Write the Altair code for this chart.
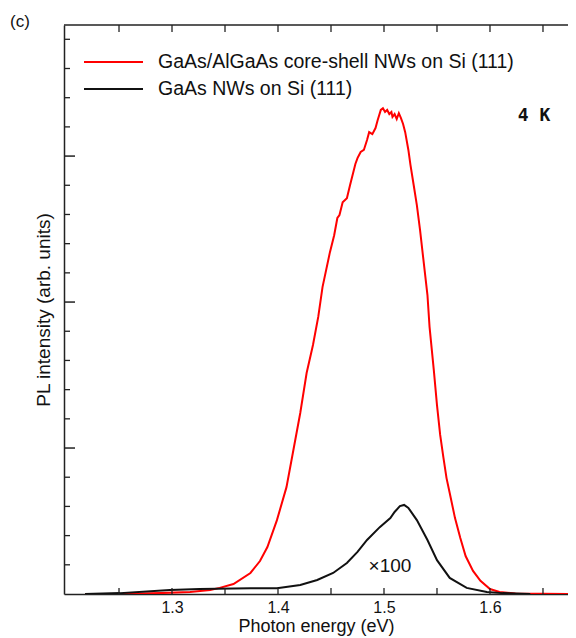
import altair as alt
import pandas as pd

# ---- data (photon energy in eV, intensity in minor-tick units)
red_e = [1.218, 1.251, 1.289, 1.317, 1.336, 1.345, 1.358, 1.374, 1.383, 1.390, 1.399, 1.408,
         1.414, 1.421, 1.427, 1.433, 1.438, 1.442, 1.449, 1.453, 1.456, 1.458, 1.461, 1.465,
         1.468, 1.473, 1.475, 1.478, 1.481, 1.484, 1.486, 1.489, 1.492, 1.494, 1.497, 1.499,
         1.501, 1.503, 1.505, 1.507, 1.508, 1.510, 1.512, 1.514, 1.516, 1.518, 1.520, 1.523,
         1.525, 1.528, 1.531, 1.534, 1.537, 1.541, 1.543, 1.547, 1.550, 1.553, 1.556, 1.559,
         1.562, 1.567, 1.572, 1.577, 1.584, 1.591, 1.600, 1.609, 1.624, 1.674]
red_i = [0.00, 0.00, 0.03, 0.07, 0.14, 0.21, 0.34, 0.72, 1.13, 1.61, 2.53, 3.66,
         4.83, 6.20, 7.57, 8.53, 9.50, 10.51, 11.71, 12.29, 12.88, 12.98, 13.42, 13.56,
         14.01, 14.73, 14.93, 15.14, 15.21, 15.55, 15.82, 15.75, 15.96, 16.23, 16.58, 16.64,
         16.51, 16.58, 16.44, 16.51, 16.34, 16.44, 16.27, 16.47, 16.30, 16.10, 15.82, 15.21,
         14.69, 14.01, 13.32, 12.47, 11.51, 10.24, 9.14, 7.67, 6.47, 5.45, 4.69, 3.97,
         3.46, 2.60, 1.92, 1.30, 0.79, 0.45, 0.17, 0.07, 0.02, 0.00]

black_e = [1.218, 1.251, 1.298, 1.326, 1.374, 1.399, 1.421, 1.437, 1.452, 1.465, 1.475, 1.484,
           1.496, 1.506, 1.510, 1.515, 1.519, 1.523, 1.531, 1.541, 1.550, 1.562, 1.578, 1.597,
           1.612, 1.638]
black_i = [0.00, 0.03, 0.14, 0.17, 0.20, 0.20, 0.31, 0.48, 0.72, 1.06, 1.44, 1.85,
           2.29, 2.60, 2.81, 3.01, 3.05, 2.95, 2.53, 1.85, 1.16, 0.55, 0.21, 0.07,
           0.03, 0.00]

series_names = ["GaAs/AlGaAs core-shell NWs on Si (111)", "GaAs NWs on Si (111)"]
series_colors = ["#ff0000", "#111111"]

x_labels = [1.3, 1.4, 1.5, 1.6]
x_ticks = [1.25, 1.30, 1.35, 1.40, 1.45, 1.50, 1.55, 1.60, 1.65]
y_minor = [1, 2, 3, 4, 6, 7, 8, 9, 11, 12, 13, 14, 16, 17, 18, 19]
y_major = [5, 10, 15]

X_MIN, X_MAX = 1.1981, 1.6736
Y_MIN, Y_MAX = 0, 19.49
W, H = 504, 569

FONT = "Liberation Sans"

xscale = alt.Scale(domain=[X_MIN, X_MAX], nice=False, zero=False)
yscale = alt.Scale(domain=[Y_MIN, Y_MAX], nice=False, zero=False)
xaxis = alt.Axis(values=x_labels, format=".1f", ticks=False, grid=False,
                 title="Photon energy (eV)", labelFontSize=16, titleFontSize=18,
                 labelPadding=5, titlePadding=2)
yaxis = alt.Axis(ticks=False, labels=False, grid=False,
                 title="PL intensity (arb. units)", titleFontSize=19, titlePadding=11)


def X(field):
    return alt.X(field, type="quantitative", scale=xscale, axis=xaxis)


def Y(field):
    return alt.Y(field, type="quantitative", scale=yscale, axis=yaxis)


df = pd.concat([
    pd.DataFrame({"e": red_e, "i": red_i, "s": series_names[0]}),
    pd.DataFrame({"e": black_e, "i": black_i, "s": series_names[1]}),
])

lines = alt.Chart(df).mark_line(strokeWidth=2, clip=True).encode(
    x=X("e"), y=Y("i"),
    color=alt.Color("s:N", scale=alt.Scale(domain=series_names, range=series_colors), legend=None),
    detail="s:N",
)

# top frame line
top = alt.Chart(pd.DataFrame({"a": [X_MIN], "b": [X_MAX], "y": [Y_MAX]})).mark_rule(
    color="#222", strokeWidth=1.5).encode(x=X("a"), x2="b", y=Y("y"))

tick_df = pd.DataFrame({"t": x_ticks})
xt_bottom = alt.Chart(tick_df).mark_rule(color="#222", strokeWidth=1.3).encode(
    x=X("t"), y=alt.value(H), y2=alt.value(H - 6))
xt_top = alt.Chart(tick_df).mark_rule(color="#222", strokeWidth=1.3).encode(
    x=X("t"), y=alt.value(0), y2=alt.value(7))
yt_minor = alt.Chart(pd.DataFrame({"t": y_minor})).mark_rule(color="#222", strokeWidth=1.3).encode(
    y=Y("t"), x=alt.value(0), x2=alt.value(6))
yt_major = alt.Chart(pd.DataFrame({"t": y_major})).mark_rule(color="#222", strokeWidth=1.5).encode(
    y=Y("t"), x=alt.value(0), x2=alt.value(11))

# legend (drawn)
legend_layers = []
for k, (name, col) in enumerate(zip(series_names, series_colors)):
    yy = 37 + 27 * k
    legend_layers.append(
        alt.Chart(pd.DataFrame({"n": [name]})).mark_rule(color=col, strokeWidth=2).encode(
            x=alt.value(20), x2=alt.value(79), y=alt.value(yy)))
    legend_layers.append(
        alt.Chart(pd.DataFrame({"n": [name]})).mark_text(
            align="left", baseline="middle", fontSize=19.5, font=FONT, color="#111").encode(
            x=alt.value(94), y=alt.value(yy), text="n:N"))

k4 = alt.Chart(pd.DataFrame({"t": ["4 K"]})).mark_text(
    align="center", baseline="middle", fontSize=18, fontWeight="bold",
    font="DejaVu Sans Mono", color="#111").encode(
    x=alt.value(470), y=alt.value(91), text="t:N")
x100 = alt.Chart(pd.DataFrame({"t": ["×100"]})).mark_text(
    align="center", baseline="middle", fontSize=19, font=FONT, color="#111").encode(
    x=alt.value(326), y=alt.value(541), text="t:N")
panel = alt.Chart(pd.DataFrame({"t": ["(c)"]})).mark_text(
    align="center", baseline="middle", fontSize=17, font=FONT, color="#111").encode(
    x=alt.value(-44), y=alt.value(-3), text="t:N")

chart = alt.layer(
    lines, top, xt_bottom, xt_top, yt_minor, yt_major, *legend_layers, k4, x100, panel
).properties(
    width=W, height=H,
    autosize=alt.AutoSizeParams(type="none"),
    padding={"left": 56, "top": 17, "right": 0, "bottom": 44},
).configure_view(stroke=None).configure_axis(
    domainColor="#222", domainWidth=1.5, labelColor="#111", titleColor="#111",
    labelFont=FONT, titleFont=FONT, titleFontWeight="normal",
)

chart.save("out.html", embed_options={"renderer": "svg", "actions": False})
